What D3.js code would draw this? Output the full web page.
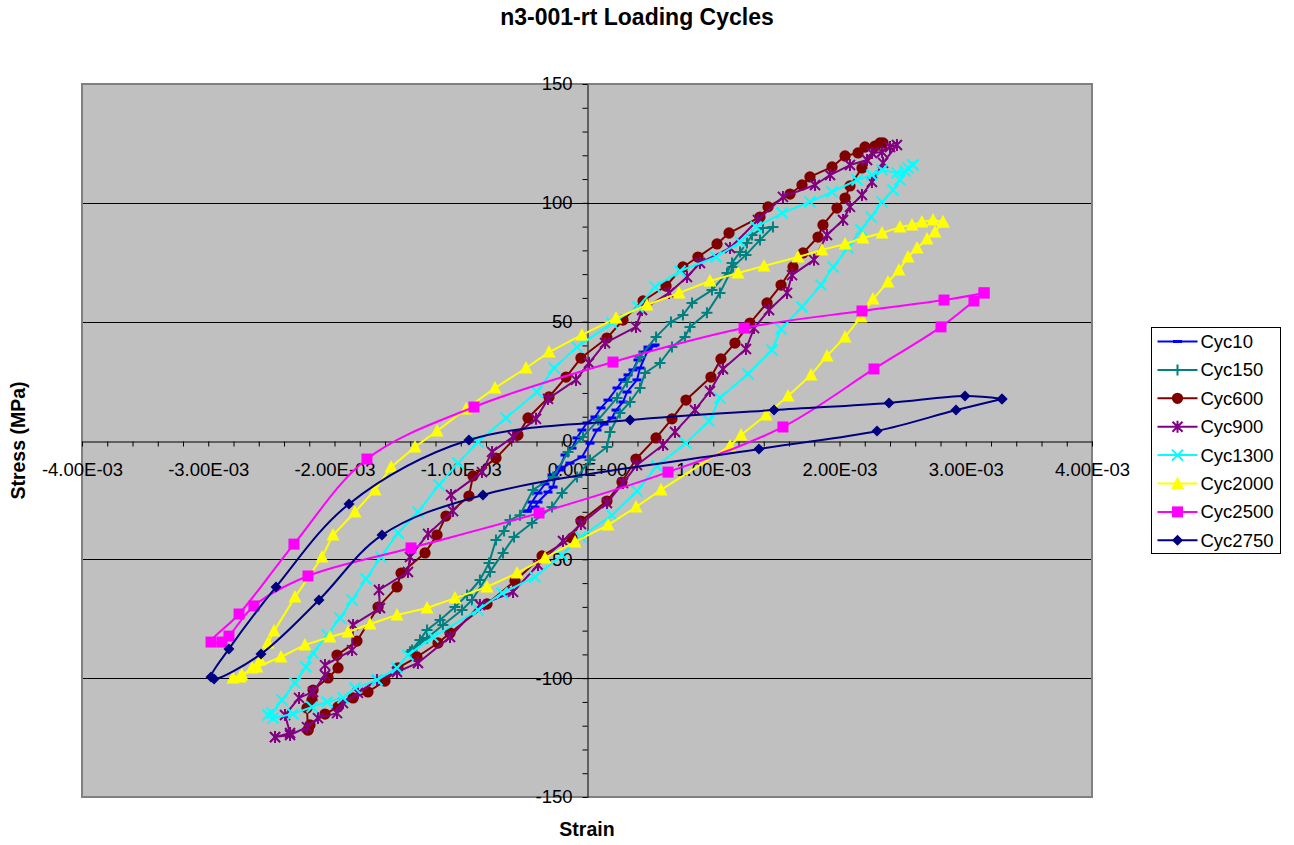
<!DOCTYPE html>
<html>
<head>
<meta charset="utf-8">
<script src="https://cdn.jsdelivr.net/npm/d3@7"></script>
<style>
  body { margin: 0; background: #fff; }
  text { font-family: "Liberation Sans", Arial, sans-serif; }
</style>
</head>
<body>
<svg width="1294" height="845"></svg>
<script>
// Each point is [strain (x 1e-3), stress (MPa)]
const cyc10 = [[-0.475,-29.7],[-0.436,-25.9],[-0.388,-22.1],[-0.333,-18.3],[-0.277,-14.5],[-0.214,-11.2],[-0.174,-6.1],[-0.119,-3.2],[-0.079,1.1],[-0.040,4.4],[0.000,7.4],[0.063,9.9],[0.111,13.7],[0.166,17.0],[0.238,22.1],[0.285,25.5],[0.325,27.6],[0.364,29.7],[0.404,33.9],[0.444,37.2],[0.483,39.3],[0.523,39.8],[0.539,40.2],[0.483,38.1],[0.420,30.5],[0.396,25.5],[0.317,20.4],[0.285,16.2],[0.230,12.8],[0.198,9.5],[0.135,6.9],[0.079,4.4],[0.024,-1.1],[-0.040,-6.9],[-0.135,-9.5],[-0.214,-12.4],[-0.253,-15.8],[-0.269,-19.6],[-0.309,-21.7],[-0.388,-25.9],[-0.412,-28.0],[-0.475,-29.7]];

const cyc150 = [[-1.402,-89.0],[-1.323,-83.9],[-1.267,-79.7],[-1.164,-75.5],[-1.046,-70.1],[-0.950,-65.0],[-0.848,-58.7],[-0.776,-51.5],[-0.721,-41.9],[-0.657,-38.1],[-0.610,-33.5],[-0.531,-31.4],[-0.428,-20.8],[-0.269,-15.4],[-0.150,-4.8],[-0.032,1.5],[0.087,8.6],[0.238,17.9],[0.317,24.6],[0.420,35.1],[0.547,43.6],[0.665,49.9],[0.760,52.8],[0.832,57.9],[0.990,63.3],[1.109,70.5],[1.149,74.7],[1.212,79.3],[1.267,83.1],[1.307,86.5],[1.394,89.4],[1.473,89.8],[1.370,84.4],[1.259,78.1],[1.156,73.0],[1.053,62.1],[0.950,53.7],[0.816,47.8],[0.776,43.6],[0.673,39.3],[0.578,32.6],[0.459,28.4],[0.420,22.1],[0.341,16.2],[0.261,11.6],[0.182,3.6],[0.158,-2.7],[0.024,-8.2],[-0.079,-15.4],[-0.198,-22.1],[-0.277,-28.0],[-0.436,-34.7],[-0.578,-40.6],[-0.665,-47.3],[-0.768,-55.3],[-0.911,-67.1],[-0.990,-71.3],[-1.141,-77.6],[-1.267,-83.1],[-1.386,-88.2],[-1.402,-89.0]];

const cyc600 = [[-2.210,-121.8],[-2.218,-112.6],[-2.178,-109.2],[-2.170,-105.0],[-2.051,-99.9],[-1.972,-95.7],[-1.980,-90.3],[-1.822,-84.4],[-1.655,-70.1],[-1.505,-61.6],[-1.473,-55.8],[-1.283,-47.3],[-1.188,-39.8],[-1.117,-31.8],[-0.935,-23.4],[-0.903,-14.9],[-0.721,-7.4],[-0.547,2.3],[-0.467,9.5],[-0.301,18.3],[-0.166,26.7],[-0.048,34.7],[0.158,43.1],[0.285,50.7],[0.444,58.7],[0.626,65.0],[0.760,73.0],[0.879,77.2],[1.030,82.7],[1.125,87.3],[1.370,94.0],[1.434,98.3],[1.608,103.7],[1.703,107.5],[1.766,110.9],[1.941,115.1],[2.044,119.7],[2.147,121.0],[2.202,123.5],[2.281,123.9],[2.321,125.2],[2.345,125.2],[2.178,114.7],[2.083,107.1],[2.044,102.0],[1.980,97.8],[1.869,90.7],[1.830,85.6],[1.711,78.9],[1.632,73.0],[1.537,65.4],[1.426,57.9],[1.291,49.4],[1.172,41.0],[1.061,34.3],[0.982,26.7],[0.784,17.0],[0.673,9.1],[0.547,1.1],[0.388,-7.8],[0.277,-17.5],[0.158,-25.5],[-0.048,-33.9],[-0.119,-41.0],[-0.356,-48.6],[-0.570,-59.1],[-0.792,-68.8],[-1.085,-81.0],[-1.180,-85.2],[-1.347,-91.1],[-1.497,-95.7],[-1.600,-101.2],[-1.735,-105.8],[-1.853,-108.3],[-1.972,-112.1],[-2.075,-115.1],[-2.194,-119.7],[-2.210,-121.8]];

const cyc900 = [[-2.471,-124.8],[-2.352,-123.1],[-2.392,-115.5],[-2.281,-108.3],[-2.170,-105.8],[-2.075,-98.7],[-2.075,-94.5],[-1.861,-88.2],[-1.853,-77.6],[-1.640,-70.5],[-1.648,-62.9],[-1.418,-55.3],[-1.402,-49.0],[-1.259,-39.3],[-1.061,-29.7],[-1.077,-22.9],[-0.832,-13.3],[-0.752,-4.8],[-0.586,1.5],[-0.404,9.1],[-0.309,17.5],[-0.087,25.5],[0.016,32.6],[0.143,41.0],[0.388,47.8],[0.436,54.9],[0.650,62.1],[0.792,68.8],[0.895,74.7],[1.133,81.0],[1.354,92.8],[1.552,102.5],[1.806,107.5],[1.925,111.7],[2.083,115.9],[2.218,118.0],[2.257,121.0],[2.337,121.4],[2.400,123.5],[2.455,124.3],[2.345,116.8],[2.257,108.8],[2.178,103.3],[2.083,98.3],[2.028,92.8],[1.901,86.5],[1.798,76.0],[1.624,69.6],[1.584,62.1],[1.442,54.9],[1.323,47.3],[1.259,38.5],[1.077,30.1],[0.974,20.8],[0.855,12.8],[0.697,3.6],[0.602,-1.9],[0.396,-10.3],[0.285,-17.9],[0.158,-26.3],[-0.048,-35.1],[-0.190,-42.3],[-0.388,-52.4],[-0.586,-63.7],[-0.848,-69.2],[-1.085,-82.7],[-1.339,-93.6],[-1.505,-97.4],[-1.663,-100.8],[-1.814,-106.2],[-1.933,-110.5],[-1.980,-114.7],[-2.131,-116.8],[-2.218,-120.6],[-2.352,-123.9],[-2.471,-124.8]];

const cyc1300 = [[2.582,115.9],[2.543,114.7],[2.479,109.6],[2.424,105.4],[2.337,100.4],[2.250,94.0],[2.170,88.6],[2.067,81.0],[1.949,73.0],[1.853,65.4],[1.703,56.2],[1.537,46.9],[1.465,38.1],[1.275,28.0],[1.053,17.9],[0.966,8.2],[0.784,-1.1],[0.554,-10.7],[0.396,-21.3],[0.198,-31.4],[-0.048,-40.6],[-0.198,-48.2],[-0.412,-57.4],[-0.673,-64.2],[-0.863,-71.3],[-1.220,-82.7],[-1.418,-90.3],[-1.505,-95.7],[-1.663,-100.8],[-1.838,-104.1],[-1.933,-108.3],[-2.059,-110.0],[-2.178,-112.1],[-2.329,-115.1],[-2.487,-116.8],[-2.527,-115.5],[-2.495,-114.7],[-2.416,-109.2],[-2.313,-102.0],[-2.226,-95.3],[-2.170,-89.4],[-2.059,-81.8],[-1.956,-74.7],[-1.861,-67.1],[-1.750,-58.3],[-1.632,-49.0],[-1.497,-38.9],[-1.339,-30.1],[-1.172,-18.7],[-1.022,-9.5],[-0.863,-0.6],[-0.642,9.5],[-0.396,20.4],[-0.261,30.5],[-0.079,39.3],[0.198,49.4],[0.404,56.2],[0.539,64.6],[0.737,71.3],[1.022,77.2],[1.212,83.5],[1.339,89.8],[1.545,95.7],[1.766,100.4],[1.941,104.6],[2.139,109.6],[2.257,111.7],[2.337,113.8],[2.455,112.6],[2.519,113.4],[2.582,115.9]];

const cyc2000 = [[2.820,91.9],[2.756,87.7],[2.693,84.8],[2.614,81.0],[2.543,77.2],[2.471,71.7],[2.384,66.7],[2.265,59.5],[2.170,52.0],[2.044,43.6],[1.901,35.6],[1.774,27.6],[1.592,18.7],[1.418,10.7],[1.220,2.3],[1.133,-2.3],[0.586,-20.8],[0.388,-28.0],[0.166,-35.6],[-0.095,-42.7],[-0.333,-49.4],[-0.554,-55.8],[-0.792,-61.6],[-1.046,-66.3],[-1.267,-70.5],[-1.505,-73.4],[-1.719,-77.2],[-1.893,-80.6],[-2.036,-82.7],[-2.234,-86.0],[-2.424,-91.1],[-2.614,-95.3],[-2.749,-99.5],[-2.804,-99.9],[-2.733,-98.7],[-2.653,-95.7],[-2.590,-92.4],[-2.527,-85.2],[-2.479,-80.2],[-2.313,-65.9],[-2.099,-49.0],[-2.012,-39.8],[-1.838,-30.1],[-1.679,-20.8],[-1.552,-11.2],[-1.362,-2.7],[-1.188,4.0],[-0.958,13.3],[-0.729,22.1],[-0.483,30.5],[-0.301,37.2],[-0.040,44.4],[0.230,51.5],[0.475,57.0],[0.729,62.1],[0.974,67.1],[1.196,70.5],[1.402,73.4],[1.671,77.2],[1.861,80.2],[2.044,82.7],[2.186,85.2],[2.337,87.3],[2.479,89.8],[2.574,90.7],[2.653,91.9],[2.741,92.8],[2.820,91.9]];

const cyc2500 = [[3.145,62.1],[3.065,58.7],[2.804,47.8],[2.273,30.1],[1.552,5.7],[0.642,-13.3],[-0.380,-30.5],[-1.394,-45.2],[-2.210,-57.0],[-2.638,-69.6],[-2.836,-82.3],[-2.891,-84.8],[-2.978,-84.8],[-2.756,-73.0],[-2.321,-43.6],[-1.743,-7.8],[-0.895,14.1],[0.206,33.0],[1.244,47.3],[2.178,54.5],[2.828,59.1],[3.145,62.1]];

const cyc2750 = [[3.287,17.5],[2.994,18.7],[2.392,15.8],[1.481,12.8],[0.341,8.6],[-0.935,0.2],[-1.885,-26.7],[-2.463,-61.6],[-2.836,-87.7],[-2.978,-99.5],[-2.954,-100.4],[-2.582,-89.8],[-2.123,-67.1],[-1.624,-39.8],[-0.824,-22.9],[1.362,-3.6],[2.297,4.0],[2.923,12.8],[3.287,17.5]];

const seriesNames = ["Cyc10", "Cyc150", "Cyc600", "Cyc900", "Cyc1300", "Cyc2000", "Cyc2500", "Cyc2750"];
const seriesData = [cyc10, cyc150, cyc600, cyc900, cyc1300, cyc2000, cyc2500, cyc2750];
const yGridValues = [-100, -50, 50, 100];
const xTickValues = d3.range(-20, 21).map(i => i * 2e-4);
const yTickValues = d3.range(-150, 151, 10);
const strainUnit = 1e-3;

// Styling per series
const colors = ["#0000FF", "#008080", "#800000", "#800080", "#00FFFF", "#FFFF00", "#FF00FF", "#000080"];
const markers = ["dash", "plus", "circle", "star", "x", "triangle", "square", "diamond"];
const smooth = [false, false, false, false, false, false, true, true];

const width = 1294, height = 845;
const plot = { left: 82, top: 84, right: 1092, bottom: 797 };
const font = "'Liberation Sans', Arial, sans-serif";

const svg = d3.select("svg");
svg.append("rect").attr("width", width).attr("height", height).attr("fill", "#fff");

const x = d3.scaleLinear().domain([-4e-3, 4e-3]).range([plot.left, plot.right]);
const y = d3.scaleLinear().domain([-150, 150]).range([plot.bottom, plot.top]);

// Plot area
svg.append("rect")
    .attr("x", plot.left).attr("y", plot.top)
    .attr("width", plot.right - plot.left).attr("height", plot.bottom - plot.top)
    .attr("fill", "#C0C0C0");

// Horizontal gridlines
svg.append("g").selectAll("line")
    .data(yGridValues)
    .join("line")
    .attr("x1", plot.left).attr("x2", plot.right)
    .attr("y1", d => Math.round(y(d)) + 0.5).attr("y2", d => Math.round(y(d)) + 0.5)
    .attr("stroke", "#000").attr("stroke-width", 1);

svg.append("rect")
    .attr("x", plot.left).attr("y", plot.top)
    .attr("width", plot.right - plot.left).attr("height", plot.bottom - plot.top)
    .attr("fill", "none").attr("stroke", "#808080").attr("stroke-width", 2);

// Tick labels like 1.00E-03
function sciLabel(v) {
    const s = d3.format(".2e")(Math.round(v * 1e6) / 1e6).replace(/\u2212/g, "-");
    const [mant, exp] = s.split("e");
    const sign = exp[0] === "-" ? "-" : "+";
    return mant + "E" + sign + exp.replace(/^[+-]/, "").padStart(2, "0");
}

const xAxis = d3.axisBottom(x)
    .tickValues(xTickValues)
    .tickSize(5).tickSizeOuter(0).tickPadding(16)
    .tickFormat((d, i) => i % 5 === 0 ? sciLabel(d) : "");

const yAxis = d3.axisLeft(y)
    .tickValues(yTickValues)
    .tickSize(5).tickSizeOuter(0).tickPadding(10)
    .tickFormat(d => d % 50 === 0 ? d : "");

const gx = svg.append("g")
    .attr("transform", `translate(0,${Math.round(y(0)) + 0.5})`)
    .call(xAxis);
const gy = svg.append("g")
    .attr("transform", `translate(${Math.round(x(0)) + 0.5},0)`)
    .call(yAxis);

[gx, gy].forEach(g => {
    g.attr("font-family", font).attr("font-size", 18.5);
    g.selectAll("path, line").attr("stroke", "#000");
    g.selectAll("text").attr("fill", "#000");
});

// Marker shapes
function markerPath(type) {
    switch (type) {
        case "dash": return "M-4.5,-1.5h9v3h-9z";
        case "plus": return "M-5.5,0H5.5M0,-5.5V5.5";
        case "circle": return d3.symbol(d3.symbolCircle, 100)();
        case "star": return "M-5,-5L5,5M-5,5L5,-5M0,-6V6";
        case "x": return "M-5.5,-5.5L5.5,5.5M-5.5,5.5L5.5,-5.5";
        case "triangle": return "M0,-7L6.5,5.5H-6.5Z";
        case "square": return "M-5.5,-5.5h11v11h-11z";
        case "diamond": return "M0,-5.5L5.5,0L0,5.5L-5.5,0Z";
    }
}
const strokeMarkers = ["plus", "star", "x"];

function styleMarker(sel, type, color) {
    sel.attr("d", markerPath(type));
    if (strokeMarkers.includes(type)) {
        sel.attr("fill", "none").attr("stroke", color).attr("stroke-width", 2);
    } else {
        sel.attr("fill", color).attr("stroke", "none");
    }
}

// Series
seriesData.forEach((data, i) => {
    const line = d3.line()
        .x(d => x(d[0] * strainUnit))
        .y(d => y(d[1]))
        .curve(smooth[i] ? d3.curveCatmullRom.alpha(0.5) : d3.curveLinear);

    const g = svg.append("g");
    g.append("path")
        .datum(data)
        .attr("d", line)
        .attr("fill", "none")
        .attr("stroke", colors[i])
        .attr("stroke-width", 2)
        .attr("stroke-linejoin", "round");

    g.selectAll("path.marker")
        .data(data)
        .join("path")
        .attr("class", "marker")
        .attr("transform", d => `translate(${x(d[0] * strainUnit)},${y(d[1])})`)
        .call(styleMarker, markers[i], colors[i]);
});

// Title and axis titles
svg.append("text")
    .attr("x", 637).attr("y", 25)
    .attr("text-anchor", "middle")
    .attr("font-family", font).attr("font-weight", "bold").attr("font-size", 23)
    .text("n3-001-rt Loading Cycles");

svg.append("text")
    .attr("x", x(0)).attr("y", 836)
    .attr("text-anchor", "middle")
    .attr("font-family", font).attr("font-weight", "bold").attr("font-size", 19.5)
    .text("Strain");

svg.append("text")
    .attr("transform", `translate(25,${y(0)}) rotate(-90)`)
    .attr("text-anchor", "middle")
    .attr("font-family", font).attr("font-weight", "bold").attr("font-size", 19.5)
    .text("Stress (MPa)");

// Legend
const legend = svg.append("g").attr("transform", "translate(1151.5,327.5)");
legend.append("rect")
    .attr("width", 129).attr("height", 226)
    .attr("fill", "#fff").attr("stroke", "#000").attr("stroke-width", 1);

const rows = legend.selectAll("g.row")
    .data(seriesNames)
    .join("g")
    .attr("class", "row")
    .attr("transform", (d, i) => `translate(0,${14 + i * 28.4})`);

rows.append("line")
    .attr("x1", 6).attr("x2", 46)
    .attr("stroke", (d, i) => colors[i]).attr("stroke-width", 2);

rows.append("path")
    .attr("transform", "translate(26,0)")
    .each(function(d, i) { d3.select(this).call(styleMarker, markers[i], colors[i]); });

rows.append("text")
    .attr("x", 49).attr("dy", "0.35em")
    .attr("font-family", font).attr("font-size", 18.5)
    .text(d => d);
</script>
</body>
</html>
